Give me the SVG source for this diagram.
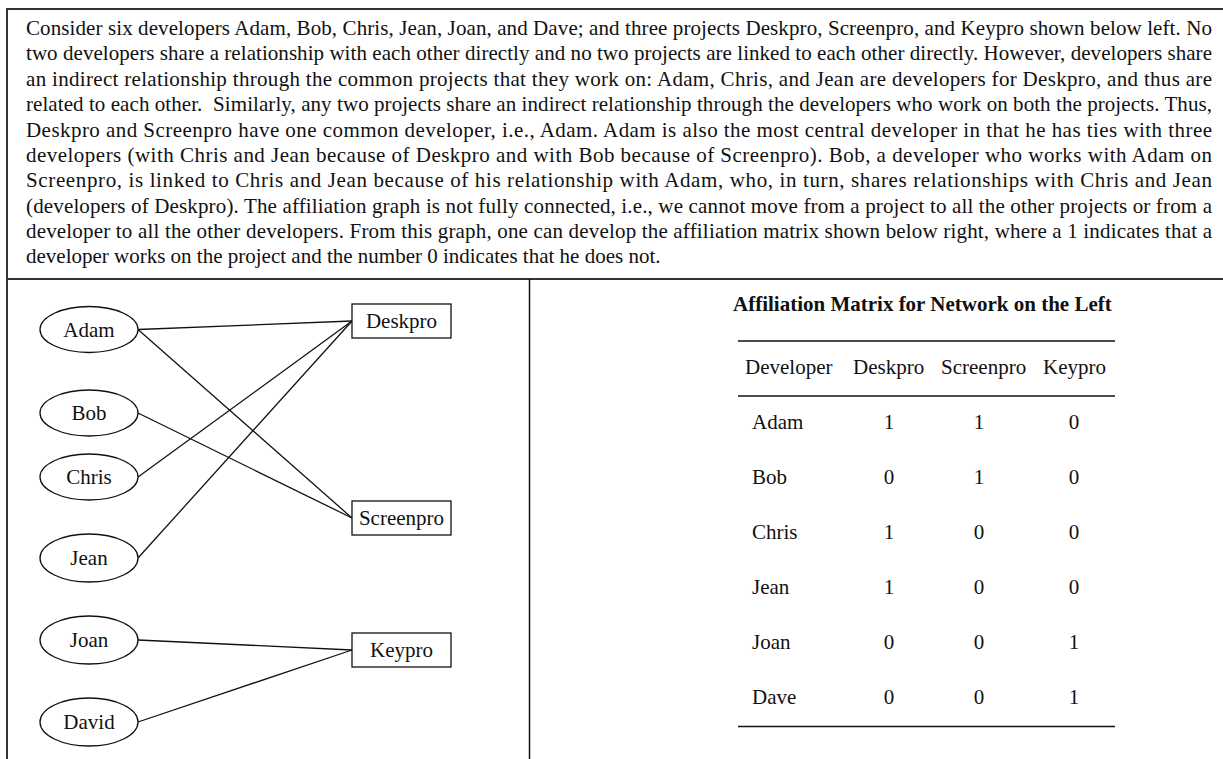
<svg xmlns="http://www.w3.org/2000/svg" width="1223" height="759" viewBox="0 0 1223 759">
<style>
text{font-family:"Liberation Serif","Times New Roman",serif;font-size:21px;fill:#111}
.frame{stroke:#333;stroke-width:2;fill:none}
.node{fill:#fff;stroke:#111;stroke-width:1.3}
.edge{stroke:#111;stroke-width:1.3;fill:none}
.rule{stroke:#111;stroke-width:1.6}
.c{text-anchor:middle}
.b{font-weight:bold}
</style>
<rect width="1223" height="759" fill="#fff"/>
<g id="frame">
<line class="frame" x1="7" y1="9" x2="1223" y2="9"/>
<line class="frame" x1="7" y1="8" x2="7" y2="759"/>
<line class="frame" x1="7" y1="279" x2="1223" y2="279"/>
<line x1="529.5" y1="279" x2="529.5" y2="759" stroke="#111" stroke-width="1.5"/>
</g>
<g id="description">
<text x="26" y="35" textLength="1186" lengthAdjust="spacing">Consider six developers Adam, Bob, Chris, Jean, Joan, and Dave; and three projects Deskpro, Screenpro, and Keypro shown below left. No</text>
<text x="26" y="60.4" textLength="1186" lengthAdjust="spacing">two developers share a relationship with each other directly and no two projects are linked to each other directly. However, developers share</text>
<text x="26" y="85.7" textLength="1186" lengthAdjust="spacing">an indirect relationship through the common projects that they work on: Adam, Chris, and Jean are developers for Deskpro, and thus are</text>
<text x="26" y="111.1" textLength="1186" lengthAdjust="spacing">related to each other.&#160; Similarly, any two projects share an indirect relationship through the developers who work on both the projects. Thus,</text>
<text x="26" y="136.5" textLength="1186" lengthAdjust="spacing">Deskpro and Screenpro have one common developer, i.e., Adam. Adam is also the most central developer in that he has ties with three</text>
<text x="26" y="161.9" textLength="1186" lengthAdjust="spacing">developers (with Chris and Jean because of Deskpro and with Bob because of Screenpro). Bob, a developer who works with Adam on</text>
<text x="26" y="187.2" textLength="1186" lengthAdjust="spacing">Screenpro, is linked to Chris and Jean because of his relationship with Adam, who, in turn, shares relationships with Chris and Jean</text>
<text x="26" y="212.6" textLength="1186" lengthAdjust="spacing">(developers of Deskpro). The affiliation graph is not fully connected, i.e., we cannot move from a project to all the other projects or from a</text>
<text x="26" y="238" textLength="1186" lengthAdjust="spacing">developer to all the other developers. From this graph, one can develop the affiliation matrix shown below right, where a 1 indicates that a</text>
<text x="26" y="263.3">developer works on the project and the number 0 indicates that he does not.</text>
</g>
<g id="connectors">
<line class="edge" x1="138" y1="329.5" x2="352" y2="321"/>
<line class="edge" x1="138" y1="329.5" x2="352" y2="518"/>
<line class="edge" x1="138" y1="413" x2="352" y2="518"/>
<line class="edge" x1="138" y1="477" x2="352" y2="321"/>
<line class="edge" x1="138" y1="558" x2="352" y2="321"/>
<line class="edge" x1="138" y1="640" x2="352" y2="650"/>
<line class="edge" x1="138" y1="722" x2="352" y2="650"/>
</g>
<g id="node-adam"><ellipse class="node" cx="89" cy="329.5" rx="49" ry="23"/><text class="c" x="89" y="336.5">Adam</text></g>
<g id="node-bob"><ellipse class="node" cx="89" cy="413" rx="49" ry="23"/><text class="c" x="89" y="420">Bob</text></g>
<g id="node-chris"><ellipse class="node" cx="89" cy="477" rx="49" ry="23"/><text class="c" x="89" y="484">Chris</text></g>
<g id="node-jean"><ellipse class="node" cx="89" cy="558" rx="49" ry="24"/><text class="c" x="89" y="565">Jean</text></g>
<g id="node-joan"><ellipse class="node" cx="89" cy="640" rx="49" ry="24"/><text class="c" x="89" y="647">Joan</text></g>
<g id="node-david"><ellipse class="node" cx="89" cy="722" rx="49" ry="24"/><text class="c" x="89" y="729">David</text></g>
<g id="node-deskpro"><rect class="node" x="352" y="304" width="99" height="34"/><text class="c" x="401.5" y="328">Deskpro</text></g>
<g id="node-screenpro"><rect class="node" x="352" y="501" width="99" height="34"/><text class="c" x="401.5" y="525">Screenpro</text></g>
<g id="node-keypro"><rect class="node" x="352" y="633" width="99" height="34"/><text class="c" x="401.5" y="657">Keypro</text></g>
<g id="matrix">
<text class="b" x="733" y="311">Affiliation Matrix for Network on the Left</text>
<line class="rule" x1="738" y1="341" x2="1115" y2="341"/>
<line class="rule" x1="738" y1="396" x2="1115" y2="396"/>
<line class="rule" x1="738" y1="726.5" x2="1115" y2="726.5"/>
<text x="745" y="374">Developer</text>
<text x="853" y="374">Deskpro</text>
<text x="941" y="374">Screenpro</text>
<text x="1043" y="374">Keypro</text>
<g id="row-adam"><text x="752" y="429">Adam</text><text class="c" x="889" y="429">1</text><text class="c" x="979" y="429">1</text><text class="c" x="1074" y="429">0</text></g>
<g id="row-bob"><text x="752" y="484">Bob</text><text class="c" x="889" y="484">0</text><text class="c" x="979" y="484">1</text><text class="c" x="1074" y="484">0</text></g>
<g id="row-chris"><text x="752" y="539">Chris</text><text class="c" x="889" y="539">1</text><text class="c" x="979" y="539">0</text><text class="c" x="1074" y="539">0</text></g>
<g id="row-jean"><text x="752" y="594">Jean</text><text class="c" x="889" y="594">1</text><text class="c" x="979" y="594">0</text><text class="c" x="1074" y="594">0</text></g>
<g id="row-joan"><text x="752" y="649">Joan</text><text class="c" x="889" y="649">0</text><text class="c" x="979" y="649">0</text><text class="c" x="1074" y="649">1</text></g>
<g id="row-dave"><text x="752" y="704">Dave</text><text class="c" x="889" y="704">0</text><text class="c" x="979" y="704">0</text><text class="c" x="1074" y="704">1</text></g>
</g>
</svg>
